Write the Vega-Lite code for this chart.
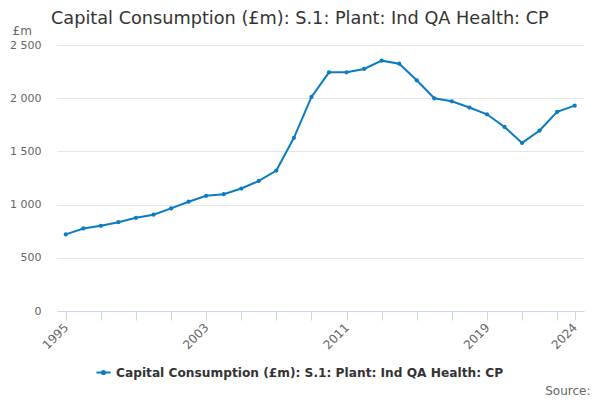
{
  "$schema": "https://vega.github.io/schema/vega-lite/v6.json",
  "width": 527,
  "height": 266,
  "autosize": "none",
  "padding": {"left": 57, "top": 45, "right": 16, "bottom": 89},
  "background": "#ffffff",
  "config": {
    "font": "DejaVu Sans",
    "view": {"stroke": null}
  },
  "title": {
    "text": "Capital Consumption (£m): S.1: Plant: Ind QA Health: CP",
    "anchor": "start",
    "frame": "group",
    "dx": -6,
    "offset": -4,
    "fontSize": 17.7,
    "fontWeight": "normal",
    "color": "#333333",
    "font": "DejaVu Sans"
  },
  "data": {
    "values": [
      {"year": 1995, "value": 720, "series": "Capital Consumption (£m): S.1: Plant: Ind QA Health: CP"},
      {"year": 1996, "value": 776, "series": "Capital Consumption (£m): S.1: Plant: Ind QA Health: CP"},
      {"year": 1997, "value": 801, "series": "Capital Consumption (£m): S.1: Plant: Ind QA Health: CP"},
      {"year": 1998, "value": 835, "series": "Capital Consumption (£m): S.1: Plant: Ind QA Health: CP"},
      {"year": 1999, "value": 876, "series": "Capital Consumption (£m): S.1: Plant: Ind QA Health: CP"},
      {"year": 2000, "value": 905, "series": "Capital Consumption (£m): S.1: Plant: Ind QA Health: CP"},
      {"year": 2001, "value": 964, "series": "Capital Consumption (£m): S.1: Plant: Ind QA Health: CP"},
      {"year": 2002, "value": 1027, "series": "Capital Consumption (£m): S.1: Plant: Ind QA Health: CP"},
      {"year": 2003, "value": 1083, "series": "Capital Consumption (£m): S.1: Plant: Ind QA Health: CP"},
      {"year": 2004, "value": 1098, "series": "Capital Consumption (£m): S.1: Plant: Ind QA Health: CP"},
      {"year": 2005, "value": 1151, "series": "Capital Consumption (£m): S.1: Plant: Ind QA Health: CP"},
      {"year": 2006, "value": 1222, "series": "Capital Consumption (£m): S.1: Plant: Ind QA Health: CP"},
      {"year": 2007, "value": 1320, "series": "Capital Consumption (£m): S.1: Plant: Ind QA Health: CP"},
      {"year": 2008, "value": 1628, "series": "Capital Consumption (£m): S.1: Plant: Ind QA Health: CP"},
      {"year": 2009, "value": 2012, "series": "Capital Consumption (£m): S.1: Plant: Ind QA Health: CP"},
      {"year": 2010, "value": 2243, "series": "Capital Consumption (£m): S.1: Plant: Ind QA Health: CP"},
      {"year": 2011, "value": 2243, "series": "Capital Consumption (£m): S.1: Plant: Ind QA Health: CP"},
      {"year": 2012, "value": 2275, "series": "Capital Consumption (£m): S.1: Plant: Ind QA Health: CP"},
      {"year": 2013, "value": 2353, "series": "Capital Consumption (£m): S.1: Plant: Ind QA Health: CP"},
      {"year": 2014, "value": 2324, "series": "Capital Consumption (£m): S.1: Plant: Ind QA Health: CP"},
      {"year": 2015, "value": 2168, "series": "Capital Consumption (£m): S.1: Plant: Ind QA Health: CP"},
      {"year": 2016, "value": 1999, "series": "Capital Consumption (£m): S.1: Plant: Ind QA Health: CP"},
      {"year": 2017, "value": 1971, "series": "Capital Consumption (£m): S.1: Plant: Ind QA Health: CP"},
      {"year": 2018, "value": 1912, "series": "Capital Consumption (£m): S.1: Plant: Ind QA Health: CP"},
      {"year": 2019, "value": 1849, "series": "Capital Consumption (£m): S.1: Plant: Ind QA Health: CP"},
      {"year": 2020, "value": 1730, "series": "Capital Consumption (£m): S.1: Plant: Ind QA Health: CP"},
      {"year": 2021, "value": 1580, "series": "Capital Consumption (£m): S.1: Plant: Ind QA Health: CP"},
      {"year": 2022, "value": 1696, "series": "Capital Consumption (£m): S.1: Plant: Ind QA Health: CP"},
      {"year": 2023, "value": 1871, "series": "Capital Consumption (£m): S.1: Plant: Ind QA Health: CP"},
      {"year": 2024, "value": 1930, "series": "Capital Consumption (£m): S.1: Plant: Ind QA Health: CP"}
    ]
  },
  "mark": {"type": "line", "strokeWidth": 2, "point": {"size": 18, "filled": true}},
  "encoding": {
    "x": {
      "field": "year",
      "type": "quantitative",
      "scale": {"domain": [1994.5, 2024.53], "nice": false, "zero": false},
      "axis": {
        "title": "Source:",
        "titleX": 533,
        "titleY": 86,
        "titleAlign": "right",
        "titleBaseline": "bottom",
        "titleFontSize": 12,
        "titleFontWeight": "normal",
        "titleColor": "#666666",
        "values": [1995, 1997, 1999, 2001, 2003, 2005, 2007, 2009, 2011, 2013, 2015, 2017, 2019, 2021, 2023, 2024],
        "format": "d",
        "labelExpr": "(datum.value == 1995 || datum.value == 2003 || datum.value == 2011 || datum.value == 2019 || datum.value == 2024) ? datum.label : ''",
        "labelAngle": -45,
        "labelAlign": "right",
        "labelBaseline": "middle",
        "labelPadding": 5,
        "labelFontSize": 12,
        "labelColor": "#666666",
        "labelOverlap": false,
        "labelBound": false,
        "labelFlush": false,
        "grid": false,
        "domainColor": "#ccd6eb",
        "tickColor": "#ccd6eb",
        "tickSize": 9
      }
    },
    "y": {
      "field": "value",
      "type": "quantitative",
      "scale": {"domain": [0, 2500], "nice": false},
      "axis": {
        "title": "£m",
        "titleAngle": 0,
        "titleX": -45,
        "titleY": -8,
        "titleAlign": "left",
        "titleBaseline": "bottom",
        "titleFontSize": 12,
        "titleFontWeight": "normal",
        "titleColor": "#666666",
        "values": [0, 500, 1000, 1500, 2000, 2500],
        "labelExpr": "replace(format(datum.value, ','), ',', ' ')",
        "labelFontSize": 11,
        "labelColor": "#666666",
        "labelPadding": 16,
        "domain": false,
        "ticks": false,
        "gridColor": "#e6e6e6"
      }
    },
    "color": {
      "field": "series",
      "type": "nominal",
      "scale": {"range": ["#0b7cc1"]},
      "legend": {
        "title": null,
        "orient": "none",
        "legendX": 38,
        "legendY": 319,
        "labelFontSize": 12.2,
        "labelFontWeight": "bold",
        "labelColor": "#333333",
        "labelLimit": 600,
        "symbolType": "M-1,0H1M-0.22,0a0.22,0.22 0 1,0 0.44,0a0.22,0.22 0 1,0 -0.44,0",
        "symbolSize": 200,
        "symbolStrokeWidth": 2,
        "symbolFillColor": "#0b7cc1"
      }
    }
  }
}
